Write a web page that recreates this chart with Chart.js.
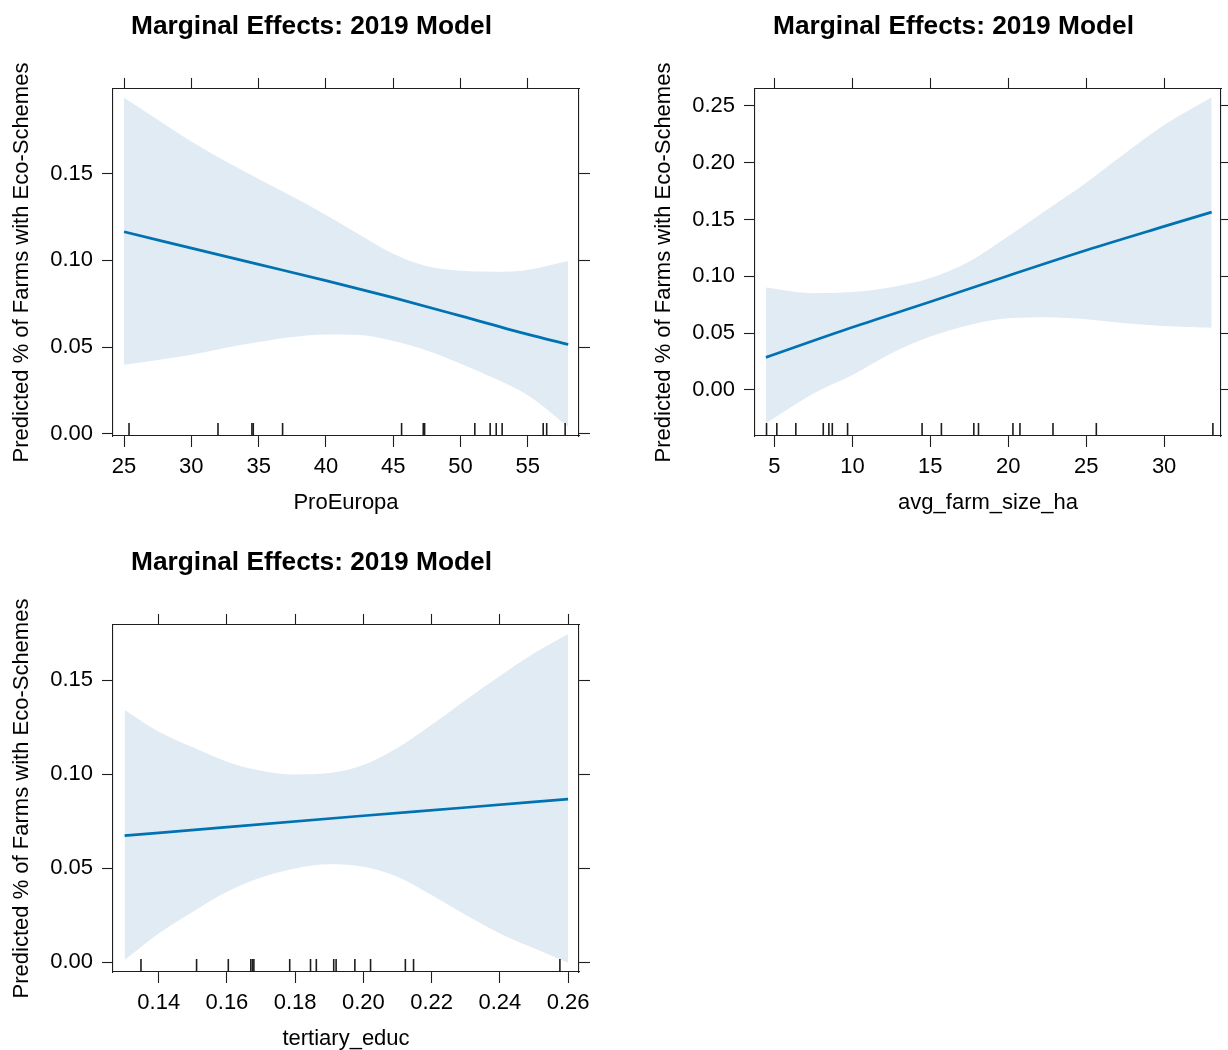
<!DOCTYPE html>
<html>
<head>
<meta charset="utf-8">
<script src="https://cdn.jsdelivr.net/npm/chart.js@4.4.0/dist/chart.umd.min.js"></script>
<style>
  html, body { margin: 0; padding: 0; background: #ffffff; }
  body { width: 1228px; height: 1050px; overflow: hidden; position: relative; }
  .panel { position: absolute; width: 623px; height: 530px; }
</style>
</head>
<body>
<div class="panel" style="left:0px; top:0px;"><canvas id="c1" width="623" height="530"></canvas></div>
<div class="panel" style="left:642px; top:0px;"><canvas id="c2" width="623" height="530"></canvas></div>
<div class="panel" style="left:0px; top:536px;"><canvas id="c3" width="623" height="530"></canvas></div>
<script>
// ---------------- DATA ----------------
const TITLE = 'Marginal Effects: 2019 Model';
const Y_LABEL = 'Predicted % of Farms with Eco-Schemes';

// Panel 1: ProEuropa
const p1Name = 'ProEuropa';
const p1FitX = [25, 30, 35, 40, 45, 50, 55, 58];
const p1Fit  = [0.1165, 0.1071, 0.0977, 0.0883, 0.0785, 0.0680, 0.0573, 0.0515];
const p1BandX = [25, 27.5, 30, 32.5, 35, 37.5, 40, 42.5, 45, 47.5, 50, 52.5, 55, 58];
const p1Upper = [0.1938, 0.1812, 0.1686, 0.1574, 0.1470, 0.1368, 0.1262, 0.1148, 0.1038, 0.0966, 0.0940, 0.0935, 0.0945, 0.0996];
const p1Lower = [0.0398, 0.0425, 0.0456, 0.0495, 0.0529, 0.0558, 0.0573, 0.0570, 0.0535, 0.0480, 0.0404, 0.0320, 0.0222, 0.0040];
const p1Rug = [25.37, 31.98, 34.50, 34.60, 36.78, 45.62, 47.23, 47.33, 51.06, 52.20, 52.65, 53.09, 56.14, 56.40, 57.77];
const p1XTicks = [25, 30, 35, 40, 45, 50, 55];
const p1XLabels = ['25', '30', '35', '40', '45', '50', '55'];
const p1YTicks = [0, 0.05, 0.10, 0.15];
const p1YLabels = ['0.00', '0.05', '0.10', '0.15'];
const p1XRange = [24.18, 58.8];
const p1YRange = [-0.0013, 0.1989];

// Panel 2: avg_farm_size_ha
const p2Name = 'avg_farm_size_ha';
const p2FitX = [4.45, 10, 15, 20, 25, 30, 33.05];
const p2Fit  = [0.0287, 0.0552, 0.0776, 0.1006, 0.1230, 0.1440, 0.1566];
const p2BandX = [4.45, 7.5, 10, 12.5, 15, 17.5, 20, 22.5, 25, 27.5, 30, 33.05];
const p2Upper = [0.0902, 0.0852, 0.0862, 0.0905, 0.0985, 0.1132, 0.1353, 0.1588, 0.1824, 0.2083, 0.2333, 0.2578];
const p2Lower = [-0.0293, -0.0030, 0.0132, 0.0323, 0.0470, 0.0572, 0.0631, 0.0640, 0.0622, 0.0587, 0.0563, 0.0549];
const p2Rug = [4.49, 5.15, 6.37, 8.13, 8.49, 8.71, 9.69, 14.47, 15.71, 17.79, 18.09, 20.30, 20.75, 22.87, 25.65, 33.13];
const p2XTicks = [5, 10, 15, 20, 25, 30];
const p2XLabels = ['5', '10', '15', '20', '25', '30'];
const p2YTicks = [0, 0.05, 0.10, 0.15, 0.20, 0.25];
const p2YLabels = ['0.00', '0.05', '0.10', '0.15', '0.20', '0.25'];
const p2XRange = [3.75, 33.65];
const p2YRange = [-0.0405, 0.2650];

// Panel 3: tertiary_educ
const p3Name = 'tertiary_educ';
const p3FitX = [0.13, 0.16, 0.20, 0.23, 0.26];
const p3Fit  = [0.0672, 0.0718, 0.0778, 0.0822, 0.0867];
const p3BandX = [0.13, 0.14, 0.15, 0.16, 0.17, 0.18, 0.19, 0.20, 0.21, 0.22, 0.23, 0.24, 0.25, 0.26];
const p3Upper = [0.1340, 0.1225, 0.1142, 0.1066, 0.1018, 0.0998, 0.1005, 0.1048, 0.1140, 0.1262, 0.1394, 0.1521, 0.1642, 0.1745];
const p3Lower = [0.0011, 0.0152, 0.0268, 0.0374, 0.0450, 0.0498, 0.0520, 0.0507, 0.0454, 0.0356, 0.0250, 0.0152, 0.0073, -0.0004];
const p3Rug = [0.1348, 0.1511, 0.1604, 0.1670, 0.1675, 0.1679, 0.1784, 0.1845, 0.1862, 0.1913, 0.1920, 0.1975, 0.2021, 0.2123, 0.2147, 0.2576];
const p3XTicks = [0.14, 0.16, 0.18, 0.20, 0.22, 0.24, 0.26];
const p3XLabels = ['0.14', '0.16', '0.18', '0.20', '0.22', '0.24', '0.26'];
const p3YTicks = [0, 0.05, 0.10, 0.15];
const p3YLabels = ['0.00', '0.05', '0.10', '0.15'];
const p3XRange = [0.1266, 0.2632];
const p3YRange = [-0.0053, 0.1793];

// ---------------- STYLE ----------------
const FONT = '"Liberation Sans", Arial, Helvetica, sans-serif';
const AXIS_COL = '#1e1e1e';
const LINE_COL = '#0072B2';
const BAND_COL = '#E1EBF4';
const LAYOUT = { leftW: 113, rightW: 44, bottomH: 94, topH: 11 };
const TICK_LEN = 11;
const RUG_HALF = 6.5;
const AREA_H = 347;

Chart.defaults.font.family = FONT;
Chart.defaults.color = '#000';

function pts(xs, ys) { return xs.map((x, i) => ({ x: x, y: ys[i] })); }

function axisCommon(min, max, tickVals) {
  return {
    type: 'linear', min: min, max: max,
    afterBuildTicks: s => { s.ticks = tickVals.map(v => ({ value: v })); },
    grid: { drawOnChartArea: false, drawTicks: true, tickLength: TICK_LEN, tickColor: AXIS_COL, tickWidth: 1.1 },
    border: { display: true, color: AXIS_COL, width: 1.1 }
  };
}

function makePanel(id, p) {
  const ctx = document.getElementById(id).getContext('2d');
  const xTop = axisCommon(p.xr[0], p.xr[1], p.xt);
  xTop.position = 'top';
  xTop.ticks = { display: false };
  xTop.afterFit = s => { s.height = LAYOUT.topH; };

  const xBot = axisCommon(p.xr[0], p.xr[1], p.xt);
  xBot.position = 'bottom';
  xBot.ticks = { callback: (v, i) => p.xl[i], font: { size: 22 }, color: '#000', padding: 7, maxRotation: 0, autoSkip: false };
  xBot.title = { display: true, text: p.name, font: { size: 22 }, color: '#000', padding: { top: 0, bottom: 14 } };
  xBot.afterFit = s => { s.height = LAYOUT.bottomH; };

  const yL = axisCommon(p.yr[0], p.yr[1], p.yt);
  yL.position = 'left';
  yL.ticks = { callback: (v, i) => p.yl[i], font: { size: 22 }, color: '#000', padding: 9, autoSkip: false };
  yL.title = { display: true, text: Y_LABEL, font: { size: 22 }, color: '#000', padding: { top: 9, bottom: 0 } };
  yL.afterFit = s => { s.width = LAYOUT.leftW; };

  const yR = axisCommon(p.yr[0], p.yr[1], p.yt);
  yR.position = 'right';
  yR.ticks = { display: false };
  yR.afterFit = s => { s.width = LAYOUT.rightW; };

  new Chart(ctx, {
    type: 'line',
    data: {
      datasets: [
        { label: 'fit', data: pts(p.fx, p.fy), borderColor: LINE_COL, borderWidth: 2.7,
          pointRadius: 0, cubicInterpolationMode: 'monotone', fill: false, order: 0,
          xAxisID: 'x', yAxisID: 'y' },
        { label: 'upper', data: pts(p.bx, p.up), borderColor: 'rgba(0,0,0,0)', borderWidth: 0,
          pointRadius: 0, cubicInterpolationMode: 'monotone', fill: '+1', backgroundColor: BAND_COL,
          order: 2, xAxisID: 'x', yAxisID: 'y' },
        { label: 'lower', data: pts(p.bx, p.lo), borderColor: 'rgba(0,0,0,0)', borderWidth: 0,
          pointRadius: 0, cubicInterpolationMode: 'monotone', fill: false,
          order: 2, xAxisID: 'x', yAxisID: 'y' },
        { type: 'scatter', label: 'rug', data: p.rug.map(x => ({ x: x, y: RUG_HALF / AREA_H })),
          pointStyle: 'line', pointRadius: RUG_HALF, pointHoverRadius: RUG_HALF, pointRotation: 90,
          pointBorderColor: AXIS_COL, pointBorderWidth: 1.6, order: 1, xAxisID: 'x', yAxisID: 'rug' }
      ]
    },
    options: {
      responsive: false, animation: false, events: [],
      layout: { padding: 0 },
      plugins: {
        legend: { display: false }, tooltip: { enabled: false },
        title: { display: true, text: TITLE, color: '#000',
                 font: { size: 26.3, weight: 'bold' }, padding: { top: 11, bottom: 35.4 } }
      },
      scales: {
        x: xBot, x2: xTop, y: yL, y2: yR,
        rug: { type: 'linear', axis: 'y', position: 'left', display: false, min: 0, max: 1 }
      }
    }
  });
}

makePanel('c1', { name: p1Name, fx: p1FitX, fy: p1Fit, bx: p1BandX, up: p1Upper, lo: p1Lower, rug: p1Rug,
  xt: p1XTicks, xl: p1XLabels, yt: p1YTicks, yl: p1YLabels, xr: p1XRange, yr: p1YRange });
makePanel('c2', { name: p2Name, fx: p2FitX, fy: p2Fit, bx: p2BandX, up: p2Upper, lo: p2Lower, rug: p2Rug,
  xt: p2XTicks, xl: p2XLabels, yt: p2YTicks, yl: p2YLabels, xr: p2XRange, yr: p2YRange });
makePanel('c3', { name: p3Name, fx: p3FitX, fy: p3Fit, bx: p3BandX, up: p3Upper, lo: p3Lower, rug: p3Rug,
  xt: p3XTicks, xl: p3XLabels, yt: p3YTicks, yl: p3YLabels, xr: p3XRange, yr: p3YRange });
</script>
</body>
</html>
